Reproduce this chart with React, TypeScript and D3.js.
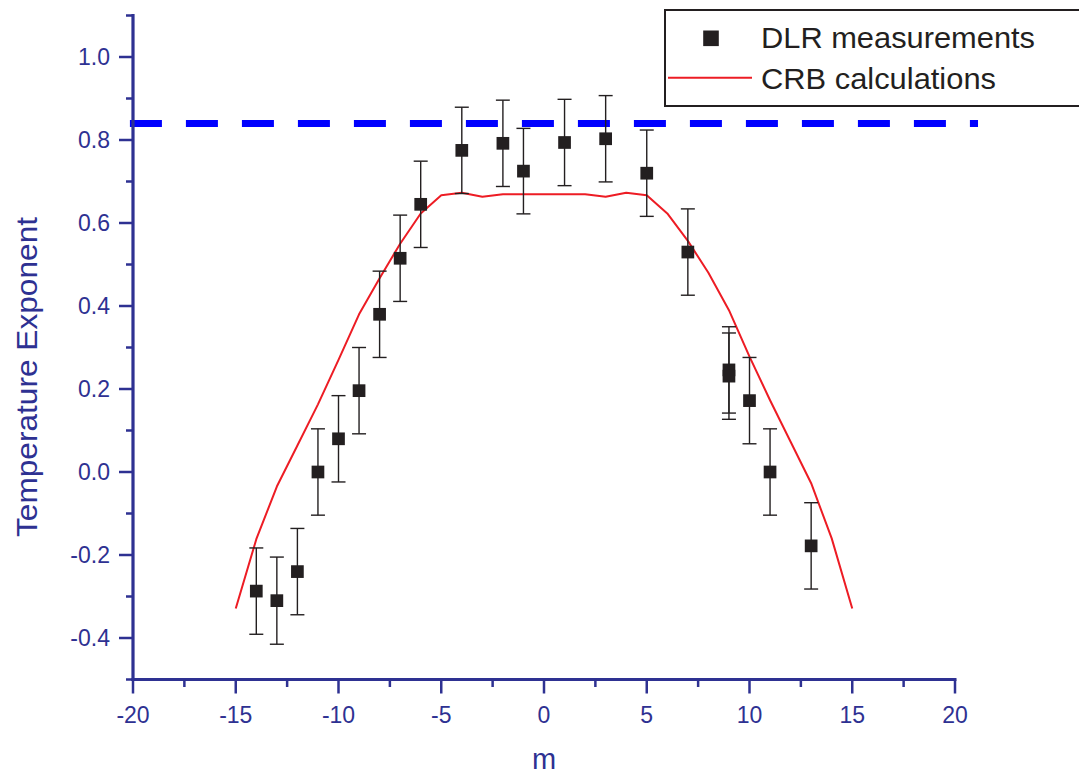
import React from "react";
import * as d3 from "d3";

// Measured temperature exponents (DLR), by rotational quantum number m
const dlrM = [-14, -13, -12, -11, -10, -9, -8, -7, -6, -4, -2, -1, 1, 3, 5, 7, 9, 9, 10, 11, 13];
const dlrValue = [-0.287, -0.31, -0.24, 0.0, 0.08, 0.196, 0.38, 0.515, 0.645, 0.775, 0.792, 0.725, 0.794, 0.803, 0.72, 0.53, 0.246, 0.231, 0.172, 0.0, -0.178];
const dlrError = [0.104, 0.105, 0.104, 0.104, 0.104, 0.104, 0.104, 0.104, 0.104, 0.104, 0.104, 0.103, 0.104, 0.104, 0.104, 0.104, 0.104, 0.104, 0.104, 0.104, 0.104];

// CRB calculated exponents
const crbM = [-15, -14, -13, -12, -11, -10, -9, -8, -7, -6, -5, -4, -3, -2, -1, 0, 1, 2, 3, 4, 5, 6, 7, 8, 9, 10, 11, 12, 13, 14, 15];
const crbValue = [-0.329, -0.162, -0.035, 0.064, 0.163, 0.27, 0.38, 0.467, 0.55, 0.623, 0.667, 0.673, 0.663, 0.669, 0.669, 0.669, 0.669, 0.669, 0.663, 0.673, 0.667, 0.623, 0.557, 0.48, 0.39, 0.278, 0.173, 0.073, -0.027, -0.16, -0.329];

// Reference level drawn as a dashed blue line
const referenceLevel = 0.84;
const referenceSpan = [-20.15, 21.12];

const xMajorTicks = [-20, -15, -10, -5, 0, 5, 10, 15, 20];
const xMinorTicks = [-17.5, -12.5, -7.5, -2.5, 2.5, 7.5, 12.5, 17.5];
const yMajorTicks = [-0.4, -0.2, 0.0, 0.2, 0.4, 0.6, 0.8, 1.0];
const yMinorTicks = [-0.5, -0.3, -0.1, 0.1, 0.3, 0.5, 0.7, 0.9, 1.1];

const legendLabels = ["DLR measurements", "CRB calculations"];
const xTitle = "m";
const yTitle = "Temperature Exponent";

const W = 1079;
const H = 777;
const AXIS = "#2e3192";
const INK = "#231f20";
const FONT = "'Liberation Sans', Arial, sans-serif";

export default function App() {
  const x = d3.scaleLinear().domain([-20, 20]).range([133, 955]);
  const y = d3.scaleLinear().domain([-0.5, 1.1]).range([679.5, 15.5]);

  const line = d3
    .line<number>()
    .x((_, i) => x(crbM[i]))
    .y((d) => y(d));

  const x0 = x(-20);
  const y0 = y(-0.5);
  const sq = 12.7;
  const cap = 7;

  return (
    <svg
      width={W}
      height={H}
      style={{ position: "absolute", left: 0, top: 0, background: "#fff" }}
      fontFamily={FONT}
    >
      {/* reference dashed level */}
      <line
        x1={x(referenceSpan[0])}
        x2={x(referenceSpan[1])}
        y1={y(referenceLevel)}
        y2={y(referenceLevel)}
        stroke="#0000ff"
        strokeWidth={7}
        strokeDasharray="32 24"
      />

      {/* CRB curve */}
      <path d={line(crbValue) ?? ""} fill="none" stroke="#ed1c24" strokeWidth={2} strokeLinejoin="round" />

      {/* DLR measurements with error bars */}
      {dlrM.map((m, i) => {
        const cx = x(m);
        const top = y(dlrValue[i] + dlrError[i]);
        const bot = y(dlrValue[i] - dlrError[i]);
        return (
          <g key={i}>
            <g stroke={INK} strokeWidth={1.4}>
              <line x1={cx} x2={cx} y1={top} y2={bot} />
              <line x1={cx - cap} x2={cx + cap} y1={top} y2={top} />
              <line x1={cx - cap} x2={cx + cap} y1={bot} y2={bot} />
            </g>
            <rect x={cx - sq / 2} y={y(dlrValue[i]) - sq / 2} width={sq} height={sq} fill={INK} />
          </g>
        );
      })}

      {/* y axis */}
      <g stroke={AXIS} strokeWidth={2.5}>
        <line x1={x0} x2={x0} y1={y(1.1) - 1.5} y2={y0 + 1.5} strokeWidth={3.2} />
        {yMajorTicks.map((t) => (
          <line key={"ym" + t} x1={x0 - 14} x2={x0} y1={y(t)} y2={y(t)} />
        ))}
        {yMinorTicks.map((t) => (
          <line key={"yn" + t} x1={x0 - 7} x2={x0} y1={y(t)} y2={y(t)} />
        ))}
      </g>
      {yMajorTicks.map((t) => (
        <text
          key={"yl" + t}
          x={110}
          y={y(t)}
          dy="0.36em"
          textAnchor="end"
          fontSize={23}
          fill={AXIS}
        >
          {d3.format(".1f")(t).replace("−", "-")}
        </text>
      ))}

      {/* x axis */}
      <g stroke={AXIS} strokeWidth={2.5}>
        <line x1={x0 - 1.5} x2={x(20) + 1.5} y1={y0} y2={y0} strokeWidth={3.2} />
        {xMajorTicks.map((t) => (
          <line key={"xm" + t} x1={x(t)} x2={x(t)} y1={y0} y2={y0 + 14} />
        ))}
        {xMinorTicks.map((t) => (
          <line key={"xn" + t} x1={x(t)} x2={x(t)} y1={y0} y2={y0 + 7.5} />
        ))}
      </g>
      {xMajorTicks.map((t) => (
        <text key={"xl" + t} x={x(t)} y={723} textAnchor="middle" fontSize={23} fill={AXIS}>
          {String(t)}
        </text>
      ))}

      {/* axis titles */}
      <text x={x(0)} y={769} textAnchor="middle" fontSize={29} fill={AXIS}>
        {xTitle}
      </text>
      <text
        transform={`translate(37, ${377}) rotate(-90)`}
        textAnchor="middle"
        fontSize={29}
        fill={AXIS}
        textLength={320}
        lengthAdjust="spacingAndGlyphs"
      >
        {yTitle}
      </text>

      {/* legend */}
      <g>
        <rect x={665} y={10} width={440} height={96} fill="#fff" stroke={INK} strokeWidth={2} />
        <rect x={711 - 7.8} y={38.3 - 7.8} width={15.6} height={15.6} fill={INK} />
        <line x1={668} x2={752} y1={77.7} y2={77.7} stroke="#ed1c24" strokeWidth={2} />
        <text x={761} y={48.3} fontSize={29} fill={INK} textLength={274} lengthAdjust="spacingAndGlyphs">
          {legendLabels[0]}
        </text>
        <text x={761} y={89.3} fontSize={29} fill={INK} textLength={235} lengthAdjust="spacingAndGlyphs">
          {legendLabels[1]}
        </text>
      </g>
    </svg>
  );
}
